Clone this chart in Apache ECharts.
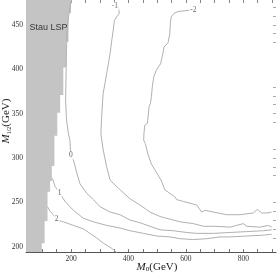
<!DOCTYPE html>
<html><head><meta charset="utf-8">
<script src="https://cdn.jsdelivr.net/npm/echarts@6/dist/echarts.min.js"></script>
<style>html,body{margin:0;padding:0;background:#fff}#c{width:278px;height:274px}</style>
</head><body><div id="c"></div>
<script>
// ---- axis ticks / labels ----
const xTickValues = [50,100,150,200,250,300,350,400,450,500,550,600,650,700,750,800,850,900];
const xLabelValues = [200,400,600,800];
const yTickValues = [200,250,300,350,400,450];
const yLabelValues = [200,250,300,350,400,450];
const rightTickValues = [470,460,450,440,430,380,370,360,350,340,310,300,290,280,250,240,230,220,210];

// ---- Stau LSP region: step edges (M0) and the upper M1/2 of each step ----
const stauEdgeM0  = [98, 108, 118, 127, 133, 142, 152, 162, 173, 183, 191, 200];
const stauEdgeTop = [204, 229, 262, 274, 291, 325, 351, 371, 402, 431, 463, 520];

// ---- contours [M0, M1/2] ----
const contourMinus2 = [[628,467],[573,465],[559,463],[549,459],[546,452],[544,440],[538,430],[524,425],[520,418],[512,406],[505,403],[497,399],[488,391],[483,380],[480,369],[476,361],[472,358],[466,339],[457,337],[454,328],[453,320],[459,316],[468,304],[480,293],[497,284],[515,274],[527,264],[545,260],[562,256],[568,253],[591,251],[638,247],[655,239],[667,241],[696,239],[742,236],[789,236],[835,238],[849,242],[864,238],[882,238],[899,239]];
const contourMinus1 = [[364,472],[368,463],[359,459],[351,455],[347,444],[342,433],[336,418],[330,406],[324,395],[318,384],[312,373],[310,365],[306,343],[304,327],[307,320],[312,309],[324,290],[336,275],[371,264],[405,254],[440,247],[475,239],[510,234],[516,236],[533,232],[580,228],[626,226],[661,223],[696,223],[754,222],[800,226],[812,223],[858,222],[887,224],[899,222]];
const contour0 = [[202,478],[196,470],[191,459],[186,441],[184,421],[183,402],[181,365],[184,343],[191,327],[196,320],[199,303],[208,298],[220,283],[231,271],[255,260],[278,253],[301,245],[336,239],[371,236],[405,230],[440,227],[475,223],[510,219],[556,218],[603,216],[638,215],[696,215],[754,216],[812,217],[870,218],[899,219]];
const contour1 = [[135,277],[144,268],[159,261],[179,251],[208,241],[243,232],[278,228],[324,224],[371,221],[405,218],[452,215],[499,212],[545,211],[580,209],[626,208],[673,209],[719,211],[754,211],[812,212],[870,213],[899,214]];
const contour2 = [[118,245],[127,240],[138,236],[150,230],[173,228],[208,224],[243,220],[266,215],[289,210],[312,204],[342,198],[357,194],[364,192]];

// ---- contour labels [M0, M1/2, text] ----
const contourLabels = [[626,467,'-2'],[353,471,'-1'],[199,303,'0'],[160,261,'1'],[150,231,'2']];
const regionLabels = [[55,447,'Stau LSP']];

const X_MIN = 43, X_MAX = 914, Y_MIN = 194, Y_MAX = 478;
const serif = 'Liberation Serif';
const lineCol = '#b0b0b0';

const chart = echarts.init(document.getElementById('c'), null, {renderer:'canvas'});
function contourSeries(d){
  return {type:'line', data:d, showSymbol:false, symbol:'none', silent:true, clip:true,
    lineStyle:{color:lineCol, width:1}, z:3};
}
chart.setOption({
  animation:false,
  grid:{left:26, right:2, top:0, bottom:22, containLabel:false, outerBoundsMode:'none'},
  xAxis:[{
    type:'value', min:X_MIN, max:X_MAX, position:'bottom',
    axisLine:{show:true, lineStyle:{color:'#555', width:1}},
    axisTick:{show:true, inside:true, length:3, customValues:xTickValues, lineStyle:{color:'#777'}},
    axisLabel:{customValues:xLabelValues, margin:3, fontFamily:serif, fontSize:7.5, color:'#333'},
    splitLine:{show:false},
    name:'{i|M}{s|0}{n|(GeV)}', nameLocation:'middle', nameGap:9, nameMoveOverlap:false,
    nameTextStyle:{padding:[0,0,0,12], rich:{
      i:{fontFamily:serif, fontStyle:'italic', fontSize:11, color:'#222'},
      s:{fontFamily:serif, fontSize:7, color:'#222', padding:[5,0,0,0]},
      n:{fontFamily:serif, fontSize:11, color:'#222'}}}
  },{
    type:'value', min:X_MIN, max:X_MAX, position:'top',
    axisLine:{show:false},
    axisTick:{show:true, inside:true, length:3, customValues:xTickValues, lineStyle:{color:'#888'}},
    axisLabel:{show:false}, splitLine:{show:false}
  }],
  yAxis:[{
    type:'value', min:Y_MIN, max:Y_MAX, position:'left',
    axisLine:{show:true, lineStyle:{color:'#555', width:1}},
    axisTick:{show:true, inside:true, length:3, customValues:yTickValues, lineStyle:{color:'#777'}},
    axisLabel:{customValues:yLabelValues, margin:3, fontFamily:serif, fontSize:7.5, color:'#333'},
    splitLine:{show:false},
    name:'{i|M}{s|1/2}{n|(GeV)}', nameLocation:'middle', nameGap:14, nameMoveOverlap:false,
    nameTextStyle:{padding:[0,0,0,10], rich:{
      i:{fontFamily:serif, fontStyle:'italic', fontSize:11, color:'#222'},
      s:{fontFamily:serif, fontSize:6, color:'#222', padding:[5,0,0,0]},
      n:{fontFamily:serif, fontSize:11, color:'#222'}}}
  },{
    type:'value', min:Y_MIN, max:Y_MAX, position:'right',
    axisLine:{show:false},
    axisTick:{show:true, inside:true, length:3, customValues:rightTickValues, lineStyle:{color:'#aaa'}},
    axisLabel:{show:false}, splitLine:{show:false}
  }],
  series:[
    {type:'custom', clip:true, silent:true, z:1, data:[[X_MIN, Y_MIN]],
      renderItem:function(params, api){
        const pts = [api.coord([0, 150])];
        for (let i = 0; i < stauEdgeM0.length; i++){
          const prevTop = i === 0 ? 150 : stauEdgeTop[i-1];
          pts.push(api.coord([stauEdgeM0[i], prevTop]));
          pts.push(api.coord([stauEdgeM0[i], stauEdgeTop[i]]));
        }
        pts.push(api.coord([0, stauEdgeTop[stauEdgeTop.length-1]]));
        return {type:'polygon', shape:{points:pts}, style:{fill:'#c4c4c4'}};
      }},
    contourSeries(contourMinus2),
    contourSeries(contourMinus1),
    contourSeries(contour0),
    contourSeries(contour1),
    contourSeries(contour2),
    {type:'scatter', data:contourLabels, symbolSize:0, silent:true, z:5,
      label:{show:true, position:'inside', formatter:function(p){return p.value[2];},
        fontFamily:serif, fontSize:7.5, color:'#444', backgroundColor:'#fff', padding:[0,1]}},
    {type:'scatter', data:regionLabels, symbolSize:0, silent:true, z:6,
      label:{show:true, position:'right', distance:0, formatter:function(p){return p.value[2];},
        fontFamily:'Liberation Sans', fontSize:9, color:'#111'}}
  ]
});
</script></body></html>
